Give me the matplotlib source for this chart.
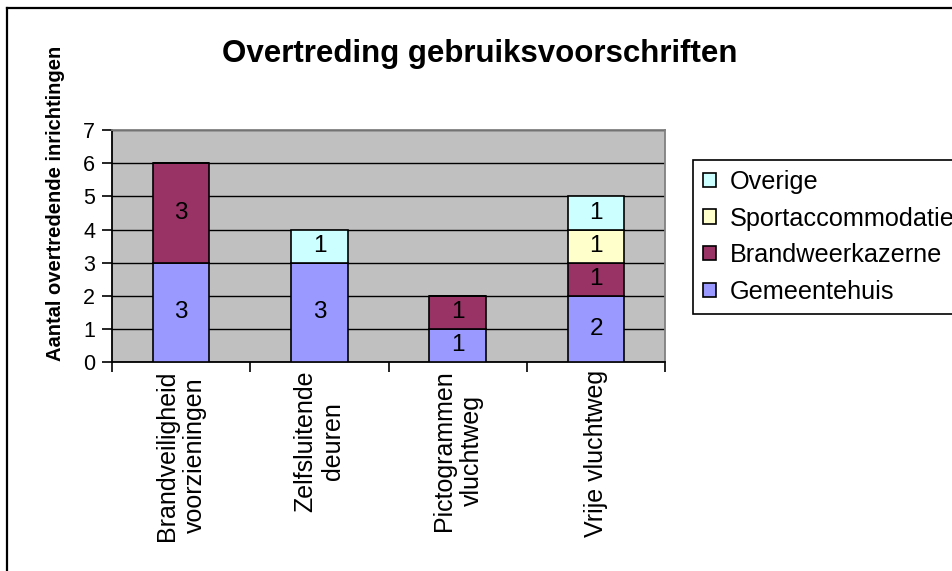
import matplotlib
matplotlib.use("Agg")
import matplotlib.pyplot as plt
import numpy as np
from matplotlib.lines import Line2D

plt.rcParams["font.family"] = ["Liberation Sans", "DejaVu Sans"]

categories = ["Brandveiligheid\nvoorzieningen", "Zelfsluitende\ndeuren",
              "Pictogrammen\nvluchtweg", "Vrije vluchtweg"]
series_names = ["Gemeentehuis", "Brandweerkazerne", "Sportaccommodatie", "Overige"]
gemeentehuis = [3, 3, 1, 2]
brandweerkazerne = [3, 0, 1, 1]
sportaccommodatie = [0, 0, 0, 1]
overige = [0, 1, 0, 1]
colors = ["#9999FF", "#993366", "#FFFFCC", "#CCFFFF"]

fig = plt.figure(figsize=(9.53, 5.71), dpi=100)
ax = fig.add_axes([0.1175, 0.366, 0.5805, 0.406])
ax.set_facecolor("#C0C0C0")

x = np.arange(len(categories))
bottom = np.zeros(len(categories))
for name, vals, col in zip(series_names,
                           [gemeentehuis, brandweerkazerne, sportaccommodatie, overige],
                           colors):
    bars = ax.bar(x, vals, 0.41, bottom=bottom, color=col, edgecolor="black",
                  linewidth=1.2, label=name, zorder=3)
    ax.bar_label(bars, labels=[str(v) if v else "" for v in vals],
                 label_type="center", fontsize=17.5, zorder=4)
    bottom += np.array(vals)

ax.set_xlim(-0.5, len(categories) - 0.5)
ax.set_ylim(0, 7)
ax.set_yticks(range(0, 8))
ax.yaxis.grid(True, color="black", linewidth=1.0, zorder=1)
ax.set_axisbelow(True)

# category boundaries get the tick marks, labels sit at the centres
ax.set_xticks(np.arange(-0.5, len(categories), 1.0))
ax.set_xticklabels([])
ax.set_xticks(x, minor=True)
ax.set_xticklabels(categories, minor=True, rotation=90, fontsize=18,
                   ha="center", va="top", multialignment="center")
ax.tick_params(axis="x", which="major", direction="out", length=7, width=1.2)
ax.tick_params(axis="x", which="minor", length=0, pad=6)
ax.tick_params(axis="y", direction="out", length=7, width=1.2, labelsize=15.5, pad=5)

for side in ["left", "bottom"]:
    ax.spines[side].set_color("black")
    ax.spines[side].set_linewidth(1.3)
for side in ["top", "right"]:
    ax.spines[side].set_color("#808080")
    ax.spines[side].set_linewidth(1.3)

fig.text(0.503, 0.906, "Overtreding gebruiksvoorschriften", fontsize=22.5,
         fontweight="bold", ha="center", va="center")
fig.text(0.058, 0.644, "Aantal overtredende inrichtingen", fontsize=14.5,
         fontweight="bold", rotation=90, ha="center", va="center")

handles, labels = ax.get_legend_handles_labels()
leg = fig.legend(handles[::-1], labels[::-1], loc="upper left",
                 bbox_to_anchor=(0.727, 0.720), fontsize=18.2, frameon=True,
                 fancybox=False, edgecolor="black", framealpha=1,
                 handlelength=0.5, handleheight=0.5, handletextpad=0.55,
                 labelspacing=0.5, borderpad=0.4, borderaxespad=0)
leg.get_frame().set_linewidth(1.2)

# chart border (left and top visible in the crop)
fig.add_artist(Line2D([0.0073, 0.0073], [0, 0.986], color="black", linewidth=1.6,
                      transform=fig.transFigure))
fig.add_artist(Line2D([0.0073, 1.0], [0.986, 0.986], color="black", linewidth=1.6,
                      transform=fig.transFigure))

fig.savefig("out.png", dpi=100)
